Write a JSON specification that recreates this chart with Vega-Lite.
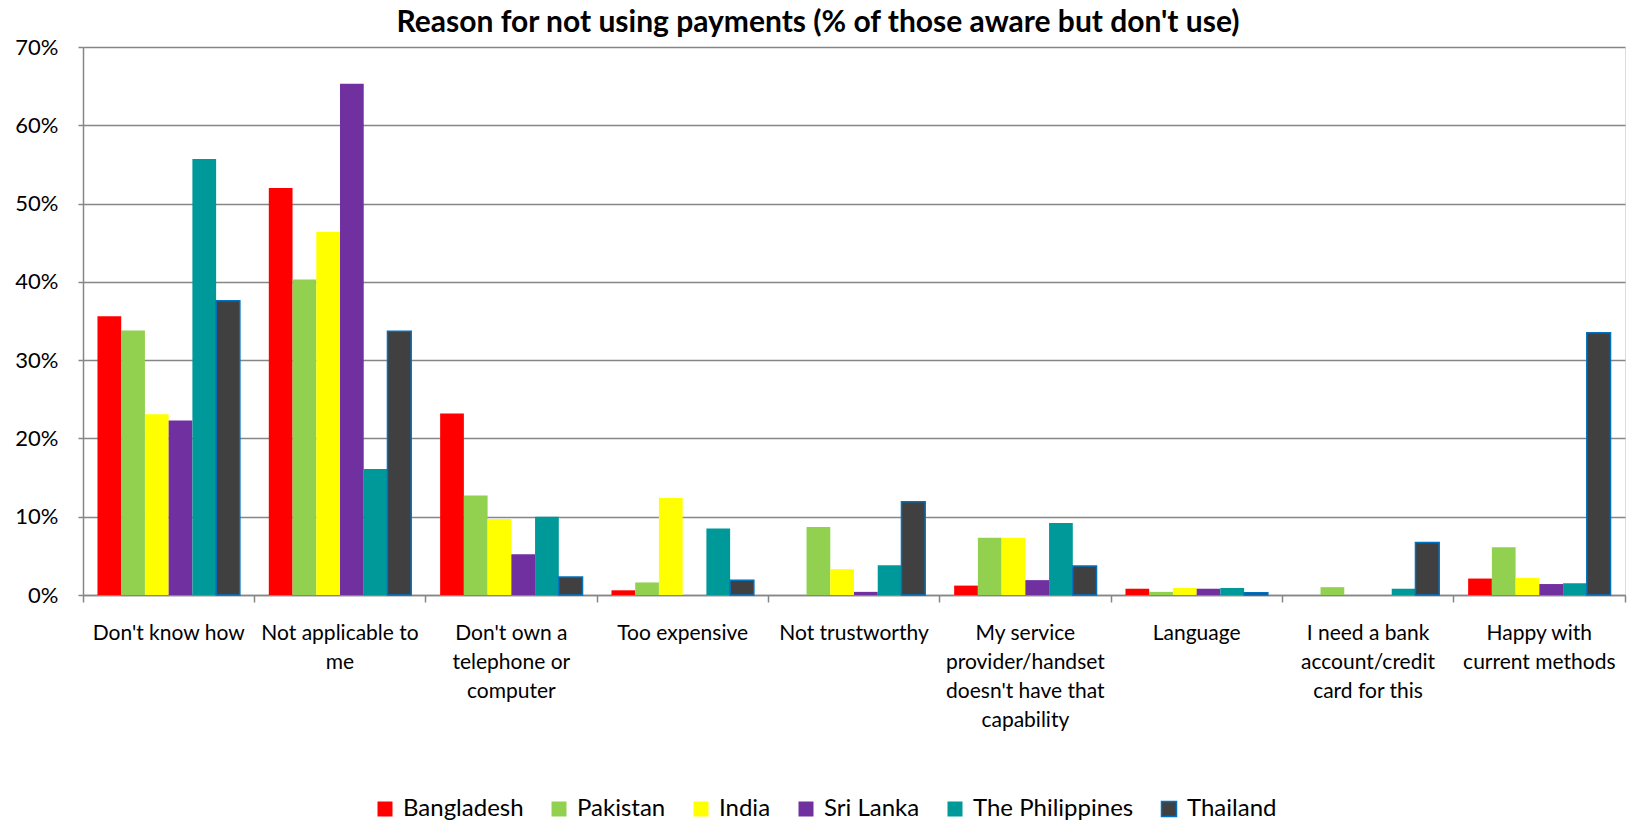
{
  "$schema": "https://vega.github.io/schema/vega-lite/v6.json",
  "autosize": {"type": "none"},
  "width": 1542,
  "height": 548,
  "padding": {"left": 83, "top": 47, "right": 11, "bottom": 227},
  "background": "white",
  "title": {"text": "Reason for not using payments (% of those aware but don't use)", "font": "Lato", "fontSize": 30, "fontWeight": "bold", "color": "black", "anchor": "middle", "dx": -36, "dy": 2, "offset": 0},
  "data": {"values": [
    {"reason": "Don't know how", "country": "Bangladesh", "pct": 35.6},
    {"reason": "Don't know how", "country": "Pakistan", "pct": 33.8},
    {"reason": "Don't know how", "country": "India", "pct": 23.1},
    {"reason": "Don't know how", "country": "Sri Lanka", "pct": 22.3},
    {"reason": "Don't know how", "country": "The Philippines", "pct": 55.7},
    {"reason": "Don't know how", "country": "Thailand", "pct": 37.6},
    {"reason": "Not applicable to me", "country": "Bangladesh", "pct": 52.0},
    {"reason": "Not applicable to me", "country": "Pakistan", "pct": 40.3},
    {"reason": "Not applicable to me", "country": "India", "pct": 46.4},
    {"reason": "Not applicable to me", "country": "Sri Lanka", "pct": 65.3},
    {"reason": "Not applicable to me", "country": "The Philippines", "pct": 16.1},
    {"reason": "Not applicable to me", "country": "Thailand", "pct": 33.7},
    {"reason": "Don't own a telephone or computer", "country": "Bangladesh", "pct": 23.2},
    {"reason": "Don't own a telephone or computer", "country": "Pakistan", "pct": 12.7},
    {"reason": "Don't own a telephone or computer", "country": "India", "pct": 9.7},
    {"reason": "Don't own a telephone or computer", "country": "Sri Lanka", "pct": 5.2},
    {"reason": "Don't own a telephone or computer", "country": "The Philippines", "pct": 10.0},
    {"reason": "Don't own a telephone or computer", "country": "Thailand", "pct": 2.3},
    {"reason": "Too expensive", "country": "Bangladesh", "pct": 0.6},
    {"reason": "Too expensive", "country": "Pakistan", "pct": 1.6},
    {"reason": "Too expensive", "country": "India", "pct": 12.4},
    {"reason": "Too expensive", "country": "The Philippines", "pct": 8.5},
    {"reason": "Too expensive", "country": "Thailand", "pct": 1.9},
    {"reason": "Not trustworthy", "country": "Pakistan", "pct": 8.7},
    {"reason": "Not trustworthy", "country": "India", "pct": 3.3},
    {"reason": "Not trustworthy", "country": "Sri Lanka", "pct": 0.4},
    {"reason": "Not trustworthy", "country": "The Philippines", "pct": 3.8},
    {"reason": "Not trustworthy", "country": "Thailand", "pct": 11.9},
    {"reason": "My service provider/handset doesn't have that capability", "country": "Bangladesh", "pct": 1.2},
    {"reason": "My service provider/handset doesn't have that capability", "country": "Pakistan", "pct": 7.3},
    {"reason": "My service provider/handset doesn't have that capability", "country": "India", "pct": 7.3},
    {"reason": "My service provider/handset doesn't have that capability", "country": "Sri Lanka", "pct": 1.9},
    {"reason": "My service provider/handset doesn't have that capability", "country": "The Philippines", "pct": 9.2},
    {"reason": "My service provider/handset doesn't have that capability", "country": "Thailand", "pct": 3.7},
    {"reason": "Language", "country": "Bangladesh", "pct": 0.8},
    {"reason": "Language", "country": "Pakistan", "pct": 0.4},
    {"reason": "Language", "country": "India", "pct": 0.9},
    {"reason": "Language", "country": "Sri Lanka", "pct": 0.8},
    {"reason": "Language", "country": "The Philippines", "pct": 0.9},
    {"reason": "Language", "country": "Thailand", "pct": 0.3},
    {"reason": "I need a bank account/credit card for this", "country": "Pakistan", "pct": 1.0},
    {"reason": "I need a bank account/credit card for this", "country": "The Philippines", "pct": 0.8},
    {"reason": "I need a bank account/credit card for this", "country": "Thailand", "pct": 6.7},
    {"reason": "Happy with current methods", "country": "Bangladesh", "pct": 2.1},
    {"reason": "Happy with current methods", "country": "Pakistan", "pct": 6.1},
    {"reason": "Happy with current methods", "country": "India", "pct": 2.2},
    {"reason": "Happy with current methods", "country": "Sri Lanka", "pct": 1.4},
    {"reason": "Happy with current methods", "country": "The Philippines", "pct": 1.5},
    {"reason": "Happy with current methods", "country": "Thailand", "pct": 33.5}
  ]},
  "mark": {"type": "bar", "strokeWidth": 1.5},
  "encoding": {
    "x": {
      "field": "reason", "type": "nominal", "sort": null,
      "scale": {"paddingInner": 0, "paddingOuter": 0},
      "axis": {
        "title": null, "labelAngle": 0, "bandPosition": 1, "tickExtra": true,
        "domainColor": "#868686", "domainWidth": 1.5, "tickColor": "#868686", "tickWidth": 1.5, "tickSize": 7,
        "labelFont": "Lato", "labelFontSize": 21, "labelColor": "black", "labelBaseline": "top", "labelPadding": 20,
        "labelLineHeight": 29, "labelLimit": 0,
        "labelExpr": "datum.value == 'Not applicable to me' ? ['Not applicable to', 'me'] : datum.value == \"Don't own a telephone or computer\" ? [\"Don't own a\", 'telephone or', 'computer'] : datum.value == \"My service provider/handset doesn't have that capability\" ? ['My service', 'provider/handset', \"doesn't have that\", 'capability'] : datum.value == 'I need a bank account/credit card for this' ? ['I need a bank', 'account/credit', 'card for this'] : datum.value == 'Happy with current methods' ? ['Happy with', 'current methods'] : datum.value"
      }
    },
    "xOffset": {
      "field": "country", "type": "nominal",
      "sort": ["Bangladesh", "Pakistan", "India", "Sri Lanka", "The Philippines", "Thailand"],
      "scale": {"domain": ["Bangladesh", "Pakistan", "India", "Sri Lanka", "The Philippines", "Thailand"], "paddingInner": 0, "paddingOuter": 0.61}
    },
    "y": {
      "field": "pct", "type": "quantitative",
      "scale": {"domain": [0, 70], "nice": false},
      "axis": {
        "title": null, "values": [0, 10, 20, 30, 40, 50, 60, 70], "labelExpr": "datum.value + '%'",
        "grid": true, "gridColor": "#868686", "gridWidth": 1.5,
        "domainColor": "#868686", "domainWidth": 1.5, "tickColor": "#868686", "tickWidth": 1.5, "tickSize": 5,
        "labelFont": "Lato", "labelFontSize": 22, "labelColor": "black", "labelPadding": 20
      }
    },
    "color": {
      "field": "country", "type": "nominal",
      "scale": {"domain": ["Bangladesh", "Pakistan", "India", "Sri Lanka", "The Philippines", "Thailand"],
                "range": ["#FF0000", "#92D050", "#FFFF00", "#7030A0", "#009999", "#404040"]},
      "legend": {
        "title": null, "orient": "none", "legendX": 290, "legendY": 750, "direction": "horizontal",
        "symbolType": "square", "symbolSize": 225, "symbolStrokeWidth": 1.5, "symbolOpacity": 1,
        "labelFont": "Lato", "labelFontSize": 24, "labelColor": "black", "columnPadding": 23, "labelOffset": 6, "labelLimit": 0
      }
    },
    "stroke": {
      "field": "country", "type": "nominal",
      "scale": {"domain": ["Bangladesh", "Pakistan", "India", "Sri Lanka", "The Philippines", "Thailand"],
                "range": ["transparent", "transparent", "transparent", "transparent", "transparent", "#0070C0"]},
      "legend": {
        "title": null, "orient": "none", "legendX": 290, "legendY": 750, "direction": "horizontal",
        "symbolType": "square", "symbolSize": 225, "symbolStrokeWidth": 1.5, "symbolOpacity": 1,
        "labelFont": "Lato", "labelFontSize": 24, "labelColor": "black", "columnPadding": 23, "labelOffset": 6, "labelLimit": 0
      }
    }
  }
}
